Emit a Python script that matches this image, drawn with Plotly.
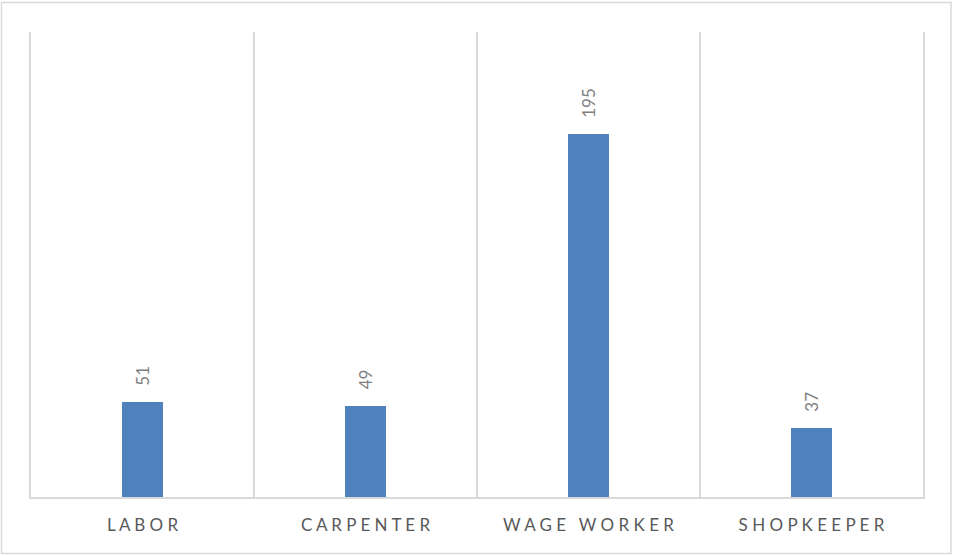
import plotly.graph_objects as go

# Occupation counts
categories = ["LABOR", "CARPENTER", "WAGE WORKER", "SHOPKEEPER"]
counts = [51, 49, 195, 37]

W, H = 953, 556
L, R, T, B = 31, 30, 32, 59  # plot-area margins in px

BAR_COLOR = "#4F81BD"
GRID_COLOR = "#D9D9D9"
LABEL_COLOR = "#595959"
VALUE_COLOR = "#7F7F7F"
FONT = "Lato, Liberation Sans, sans-serif"


def spaced(label):
    """Widen the tracking of an axis label by inserting spaces between letters."""
    words = label.split(" ")
    return "\u00a0\u00a0\u00a0".join("\u00a0".join(w) for w in words)


fig = go.Figure()
fig.add_trace(go.Bar(
    x=categories,
    y=counts,
    marker=dict(color=BAR_COLOR, line=dict(width=0)),
    width=0.184,
    hoverinfo="x+y",
))

# value labels, rotated, above each bar
for c, v in zip(categories, counts):
    fig.add_annotation(
        x=c, y=v, xref="x", yref="y",
        text=str(v), textangle=-90,
        showarrow=False, xanchor="center", yanchor="bottom",
        yshift=14,
        font=dict(family=FONT, size=17, color=VALUE_COLOR),
    )

# chart border around the whole figure
pw = W - L - R
ph = H - T - B
fig.add_shape(
    type="rect", xref="paper", yref="paper",
    x0=(1.5 - L) / pw, x1=(951 - L) / pw,
    y0=-(553.5 - (H - B)) / ph, y1=1 + (T - 2.5) / ph,
    line=dict(color=GRID_COLOR, width=1.5),
    fillcolor="rgba(0,0,0,0)", layer="below",
)

fig.update_layout(
    width=W, height=H,
    margin=dict(l=L, r=R, t=T, b=B),
    paper_bgcolor="white", plot_bgcolor="white",
    showlegend=False,
    bargap=0,
    xaxis=dict(
        type="category",
        tickson="boundaries",
        showgrid=True, gridcolor=GRID_COLOR, gridwidth=1.5,
        showline=True, linecolor=GRID_COLOR, linewidth=1.5,
        ticks="", ticklen=0,
        tickmode="array", tickvals=categories,
        ticktext=[spaced(c) for c in categories],
        tickfont=dict(family=FONT, size=17, color=LABEL_COLOR),
        ticklabelstandoff=12,
        range=[-0.5, 3.5],
        zeroline=False,
    ),
    yaxis=dict(
        range=[0, 250],
        showgrid=False, zeroline=False,
        showline=True, mirror=True, linecolor=GRID_COLOR, linewidth=1.5,
        showticklabels=False, ticks="",
    ),
)

fig.write_html("out.html")
